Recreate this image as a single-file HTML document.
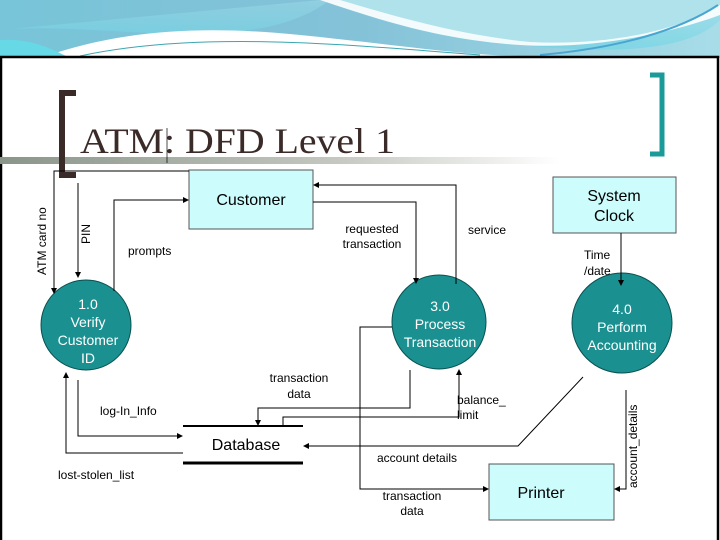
<!DOCTYPE html>
<html><head><style>
html,body{margin:0;padding:0;width:720px;height:540px;overflow:hidden;background:#fff}
svg text{font-family:"Liberation Sans",sans-serif}
</style></head><body>
<svg width="720" height="540" viewBox="0 0 720 540" xmlns="http://www.w3.org/2000/svg">
<defs>
<linearGradient id="bg" x1="0" y1="0" x2="1" y2="0">
<stop offset="0" stop-color="#78c4d8"/><stop offset="0.5" stop-color="#84c2d8"/><stop offset="1" stop-color="#a8dde8"/>
</linearGradient>
<linearGradient id="bg2" x1="0" y1="0" x2="0" y2="1">
<stop offset="0" stop-color="#9fdbe8"/><stop offset="1" stop-color="#62d6e6"/>
</linearGradient>
<linearGradient id="gl" x1="0" y1="0" x2="1" y2="0">
<stop offset="0" stop-color="#8a958a"/><stop offset="0.6" stop-color="#c4c8c0"/><stop offset="1" stop-color="#ffffff"/>
</linearGradient>
<marker id="a" markerWidth="6" markerHeight="6" refX="5" refY="3" orient="auto" markerUnits="userSpaceOnUse"><path d="M0,0 L6,3 L0,6 z" fill="#000"/></marker>
</defs>
<rect x="0" y="0" width="720" height="58" fill="url(#bg)"/>
<path d="M0,30 C100,20 250,60 330,0 L720,0 L720,20 C690,50 620,55 520,45 C420,40 340,5 320,0 Z" fill="url(#bg2)" opacity="0.5"/>
<path d="M40,58 C120,30 200,25 300,35 C400,45 460,55 520,56 L40,58 Z" fill="#fff"/>
<path d="M320,0 C380,20 440,40 520,45 C600,50 680,30 720,15 L720,0 Z" fill="#ffffff" opacity="0.9"/>
<path d="M340,0 C400,18 460,35 530,42 C610,46 680,30 720,5 L720,0 Z" fill="#b0e2ec"/>
<path d="M0,58 L0,40 C30,38 50,48 70,58 Z" fill="#66d8e6"/>
<path d="M80,56 C200,30 350,45 480,55" stroke="#3aa6b0" fill="none" stroke-width="1"/>
<path d="M540,55 C620,48 680,30 718,5" stroke="#4aa6d0" fill="none" stroke-width="2"/>
<rect x="1" y="57" width="717" height="490" fill="#fff" stroke="#000" stroke-width="2.5"/>
<rect x="0" y="157" width="560" height="7" fill="url(#gl)"/>
<path d="M76,93 L62,93 L62,175 L76,175" stroke="#3a2a28" stroke-width="6" fill="none"/>
<path d="M650,75 L662,75 L662,154 L650,154" stroke="#1a9a98" stroke-width="5" fill="none"/>
<text x="80" y="153" style="font-family:'Liberation Serif',serif" font-size="36" textLength="315" lengthAdjust="spacingAndGlyphs" fill="#3a2a28">ATM: DFD Level 1</text>
<line x1="167" y1="128" x2="167" y2="163" stroke="#000" stroke-width="0.7"/>
<rect x="189" y="170" width="124" height="59" fill="#ccfcfc" stroke="#555"/>
<text x="251" y="205" font-size="16" text-anchor="middle">Customer</text>
<rect x="553" y="177" width="123" height="56" fill="#ccfcfc" stroke="#555"/>
<text x="614" y="201" font-size="16" text-anchor="middle">System</text>
<text x="614" y="221" font-size="16" text-anchor="middle">Clock</text>
<rect x="489" y="464" width="125" height="56" fill="#ccfcfc" stroke="#555"/>
<text x="541" y="498" font-size="16" text-anchor="middle">Printer</text>
<circle cx="86" cy="325" r="45" fill="#1a9090" stroke="#0a5050"/>
<g fill="#fff" font-size="14" text-anchor="middle"><text x="88" y="309">1.0</text><text x="88" y="327">Verify</text><text x="88" y="345">Customer</text><text x="88" y="363">ID</text></g>
<circle cx="439" cy="322" r="47" fill="#1a9090" stroke="#0a5050"/>
<g fill="#fff" font-size="14" text-anchor="middle"><text x="440" y="311">3.0</text><text x="440" y="329">Process</text><text x="440" y="347">Transaction</text></g>
<circle cx="622" cy="323" r="50" fill="#1a9090" stroke="#0a5050"/>
<g fill="#fff" font-size="14" text-anchor="middle"><text x="622" y="314">4.0</text><text x="622" y="332">Perform</text><text x="622" y="350">Accounting</text></g>
<line x1="183" y1="426" x2="303" y2="426" stroke="#000" stroke-width="2"/>
<line x1="183" y1="463" x2="303" y2="463" stroke="#000" stroke-width="3"/>
<text x="246" y="450" font-size="16" text-anchor="middle">Database</text>
<g stroke="#000" stroke-width="1" fill="none">
<path d="M189,171 L54,171 L54,293" marker-end="url(#a)"/>
<path d="M78,183 L78,277" marker-end="url(#a)"/>
<path d="M114,291 L114,200 L188,200" marker-end="url(#a)"/>
<path d="M456,284 L456,185 L314,185" marker-end="url(#a)"/>
<path d="M313,202 L416,202 L416,283" marker-end="url(#a)"/>
<path d="M410,370 L410,408 L258,408 L258,425" marker-end="url(#a)"/>
<path d="M283,425 L283,417 L459,417 L459,370" marker-end="url(#a)"/>
<path d="M583,377 L518,446 L304,446" marker-end="url(#a)"/>
<path d="M78,380 L78,436 L182,436" marker-end="url(#a)"/>
<path d="M183,453 L66,453 L66,373" marker-end="url(#a)"/>
<path d="M392,327 L360,327 L360,489 L488,489" marker-end="url(#a)"/>
<path d="M626,390 L626,489 L615,489" marker-end="url(#a)"/>
<path d="M621,233 L621,285" marker-end="url(#a)"/>
</g>
<g font-size="12" fill="#000">
<text transform="translate(46,275) rotate(-90)">ATM card no</text>
<text transform="translate(90,244) rotate(-90)">PIN</text>
<text x="128" y="255">prompts</text>
<text x="372" y="233" text-anchor="middle">requested</text>
<text x="372" y="248" text-anchor="middle">transaction</text>
<text x="468" y="234">service</text>
<text x="299" y="382" text-anchor="middle">transaction</text>
<text x="299" y="398" text-anchor="middle">data</text>
<text x="457" y="404">balance_</text>
<text x="457" y="419">limit</text>
<text x="100" y="415">log-In_Info</text>
<text x="58" y="479">lost-stolen_list</text>
<text x="377" y="462">account  details</text>
<text x="412" y="500" text-anchor="middle">transaction</text>
<text x="412" y="515" text-anchor="middle">data</text>
<text x="584" y="259">Time</text>
<text x="584" y="275">/date</text>
<text transform="translate(637,488) rotate(-90)">account_details</text>
</g>
</svg>
</body></html>
